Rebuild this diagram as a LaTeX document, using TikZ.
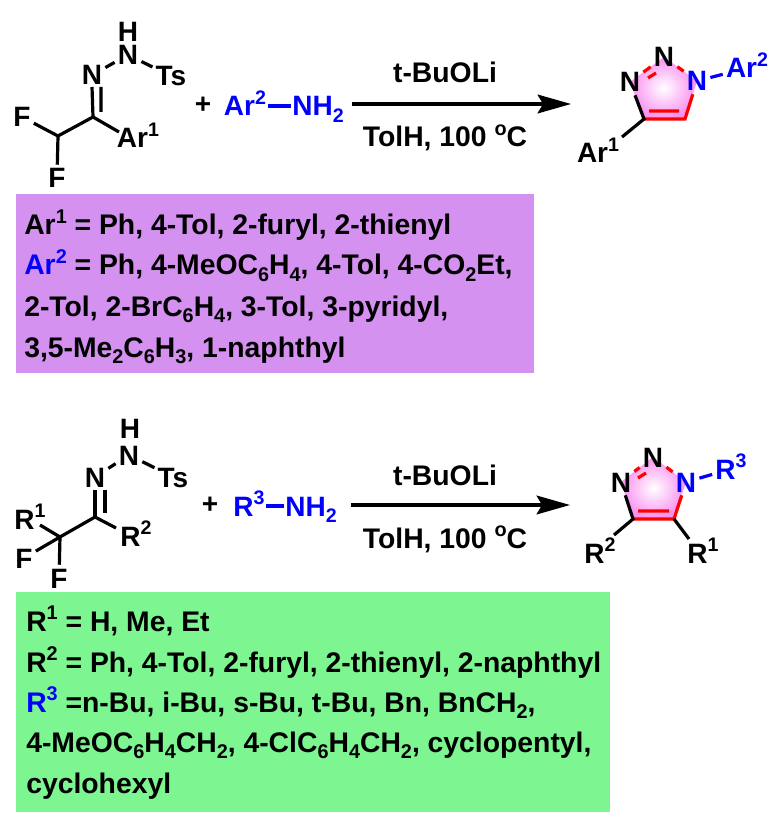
\documentclass[tikz,border=0pt]{standalone}
\usepackage{graphicx}
\usepackage{fontspec}
\setmainfont{Liberation Sans}
\usetikzlibrary{arrows.meta, positioning, calc}
\definecolor{panelpurple}{HTML}{D491F0}
\definecolor{panelgreen}{HTML}{7DF590}
\definecolor{ringpink}{HTML}{F98FEF}
\newcommand{\up}[1]{\raisebox{0.40em}{\scalebox{0.70}{#1}}}
\newcommand{\dn}[1]{\raisebox{-0.22em}{\scalebox{0.70}{#1}}}
\tikzset{
  atom/.style={inner sep=2.25pt,text height=15pt,text depth=0pt,font=\fontsize{21}{25}\bfseries},
  tight/.style={atom,inner xsep=1pt},
  bond/.style={line width=2.4pt},
  redbond/.style={bond,color=red},
  bluebond/.style={bond,color=blue},
  rxnarrow/.style={line width=2.6pt,-{Stealth[length=25pt,width=14pt,inset=4pt]}},
  panelline/.style={anchor=base west,inner sep=0pt,font=\fontsize{21.25}{25}\bfseries},
  condition/.style={anchor=base,inner sep=0pt,font=\fontsize{21.25}{25}\bfseries},
}
\begin{document}
\begin{tikzpicture}[x=0.75pt,y=-0.75pt]
\useasboundingbox (0,0) rectangle (776,823);
% Panels
\fill[panelpurple] (16,194) rectangle (534,373);
\fill[panelgreen] (16,592) rectangle (610,812);
% Hydrazone 1
\node[atom,inner sep=0pt] (a1_h) at (128,32) {H};
\node[atom] (a1_nh) at (128,55) {N};
\node[atom] (a1_n) at (92,75) {N};
\node[atom] (a1_ts) at (171,76) {Ts};
\node[atom] (a1_f1) at (22,117) {F};
\node[atom] (a1_f2) at (57,178) {F};
\node[atom] (a1_ar) at (138,138) {Ar\up{1}};
\coordinate (a1_c) at (93,117);
\coordinate (a1_cf) at (58,136);
\coordinate (a1_in) at (119,132);
\coordinate (a1_d1) at (92,87);
\coordinate (a1_d2) at (101,87);
\coordinate (a1_d3) at (101,112);
\draw[bond] (a1_n) -- (a1_nh) (a1_nh) -- (a1_ts);
\draw[bond] (a1_d1) -- (a1_c) (a1_d2) -- (a1_d3);
\draw[bond] (a1_c) -- (a1_cf) (a1_c) -- (a1_in);
\draw[bond] (a1_cf) -- (a1_f1) (a1_cf) -- (a1_f2);
% Amine 1
\node[atom] (p1) at (203,104) {+};
\node[atom,tight,color=blue] (r1_ar) at (245,106) {Ar\up{2}};
\node[atom,tight,color=blue] (r1_nh) at (318,106) {NH\dn{2}};
\draw[bluebond] (r1_ar) -- (r1_nh);
% Arrow 1
\coordinate (w1_a) at (352,104);
\coordinate (w1_b) at (571,104);
\draw[rxnarrow] (w1_a) -- (w1_b);
\node[condition] (w1_top) at (445,83) {t-BuOLi};
\node[condition] (w1_bot) at (445,147) {TolH, 100 \up{o}C};
% Triazole 1
\coordinate (t1_c4) at (644,119);
\coordinate (t1_c5) at (685,119);
\shade[inner color=white,outer color=ringpink] (630,82) -- (664,57) -- (697,81) -- (t1_c5) -- (t1_c4) -- cycle;
\node[atom] (t1_n3) at (630,82) {N};
\node[atom] (t1_n2) at (664,57) {N};
\node[atom,color=blue] (t1_n1) at (697,81) {N};
\node[atom,color=blue] (t1_ar2) at (747,68) {Ar\up{2}};
\node[atom] (t1_ar1) at (598,153) {Ar\up{1}};
\coordinate (t1_i1) at (648,78);
\coordinate (t1_i2) at (656,73);
\coordinate (t1_i3) at (649,111);
\coordinate (t1_i4) at (679,111);
\coordinate (t1_o) at (622,137);
\draw[redbond] (t1_n3) -- (t1_n2) (t1_n2) -- (t1_n1) (t1_i1) -- (t1_i2);
\draw[redbond] (t1_n1) -- (t1_c5) -- (t1_c4) (t1_i3) -- (t1_i4);
\draw[bond] (t1_n3) -- (t1_c4) -- (t1_o);
\draw[bluebond] (t1_n1) -- (t1_ar2);
% Panel 1 text
\node[panelline] (l1_a) at (24,235) {Ar\up{1} = Ph, 4-Tol, 2-furyl, 2-thienyl};
\node[panelline] (l1_b) at (24,275) {\textcolor{blue}{Ar\up{2}} = Ph, 4-MeOC\dn{6}H\dn{4}, 4-Tol, 4-CO\dn{2}Et,};
\node[panelline] (l1_c) at (24,316) {2-Tol, 2-BrC\dn{6}H\dn{4}, 3-Tol, 3-pyridyl,};
\node[panelline] (l1_d) at (24,357) {3,5-Me\dn{2}C\dn{6}H\dn{3}, 1-naphthyl};
% Hydrazone 2
\node[atom] (a2_h) at (130,428) {H};
\node[atom] (a2_nh) at (129,455) {N};
\node[atom] (a2_n) at (95,477) {N};
\node[atom] (a2_ts) at (173,477) {Ts};
\node[atom] (a2_r1) at (30,519) {R\up{1}};
\node[atom] (a2_f1) at (24,558) {F};
\node[atom] (a2_f2) at (59,578) {F};
\node[atom] (a2_r2) at (136,536) {R\up{2}};
\coordinate (a2_c) at (95,517);
\coordinate (a2_cf) at (60,537);
\coordinate (a2_in1) at (116,528);
\coordinate (a2_in2) at (40,525);
\coordinate (a2_d1) at (95,490);
\coordinate (a2_d2) at (105,490);
\coordinate (a2_d3) at (105,513);
\draw[bond] (a2_n) -- (a2_nh) (a2_nh) -- (a2_ts);
\draw[bond] (a2_d1) -- (a2_c) (a2_d2) -- (a2_d3);
\draw[bond] (a2_c) -- (a2_cf) (a2_c) -- (a2_in1);
\draw[bond] (a2_cf) -- (a2_in2) (a2_cf) -- (a2_f1) (a2_cf) -- (a2_f2);
% Amine 2
\node[atom] (p2) at (210,503) {+};
\node[atom,tight,color=blue] (r2_r) at (249,506) {R\up{3}};
\node[atom,tight,color=blue] (r2_nh) at (311,506) {NH\dn{2}};
\draw[bluebond] (r2_r) -- (r2_nh);
% Arrow 2
\coordinate (w2_a) at (351,505);
\coordinate (w2_b) at (570,505);
\draw[rxnarrow] (w2_a) -- (w2_b);
\node[condition] (w2_top) at (445,485) {t-BuOLi};
\node[condition] (w2_bot) at (445,548) {TolH, 100 \up{o}C};
% Triazole 2
\coordinate (t2_c4) at (633,519);
\coordinate (t2_c5) at (674,519);
\shade[inner color=white,outer color=ringpink] (621,482) -- (653,457) -- (686,482) -- (t2_c5) -- (t2_c4) -- cycle;
\node[atom] (t2_n3) at (621,482) {N};
\node[atom] (t2_n2) at (653,457) {N};
\node[atom,color=blue] (t2_n1) at (686,482) {N};
\node[atom,color=blue] (t2_r3) at (731,469) {R\up{3}};
\node[atom] (t2_r2) at (600,553) {R\up{2}};
\node[atom] (t2_r1) at (703,553) {R\up{1}};
\coordinate (t2_i1) at (638,478);
\coordinate (t2_i2) at (646,473);
\coordinate (t2_i3) at (638,511);
\coordinate (t2_i4) at (669,511);
\coordinate (t2_o1) at (614,535);
\coordinate (t2_o2) at (689,539);
\draw[redbond] (t2_n3) -- (t2_n2) (t2_n2) -- (t2_n1) (t2_i1) -- (t2_i2);
\draw[redbond] (t2_n1) -- (t2_c5) -- (t2_c4) (t2_i3) -- (t2_i4);
\draw[bond] (t2_n3) -- (t2_c4) -- (t2_o1) (t2_c5) -- (t2_o2);
\draw[bluebond] (t2_n1) -- (t2_r3);
% Panel 2 text
\node[panelline] (l2_a) at (26,631) {R\up{1} = H, Me, Et};
\node[panelline] (l2_b) at (26,672) {R\up{2} = Ph, 4-Tol, 2-furyl, 2-thienyl, 2-naphthyl};
\node[panelline] (l2_c) at (26,712) {\textcolor{blue}{R\up{3}} =n-Bu, i-Bu, s-Bu, t-Bu, Bn, BnCH\dn{2},};
\node[panelline] (l2_d) at (26,752) {4-MeOC\dn{6}H\dn{4}CH\dn{2}, 4-ClC\dn{6}H\dn{4}CH\dn{2}, cyclopentyl,};
\node[panelline] (l2_e) at (26,793) {cyclohexyl};
\end{tikzpicture}
\end{document}
